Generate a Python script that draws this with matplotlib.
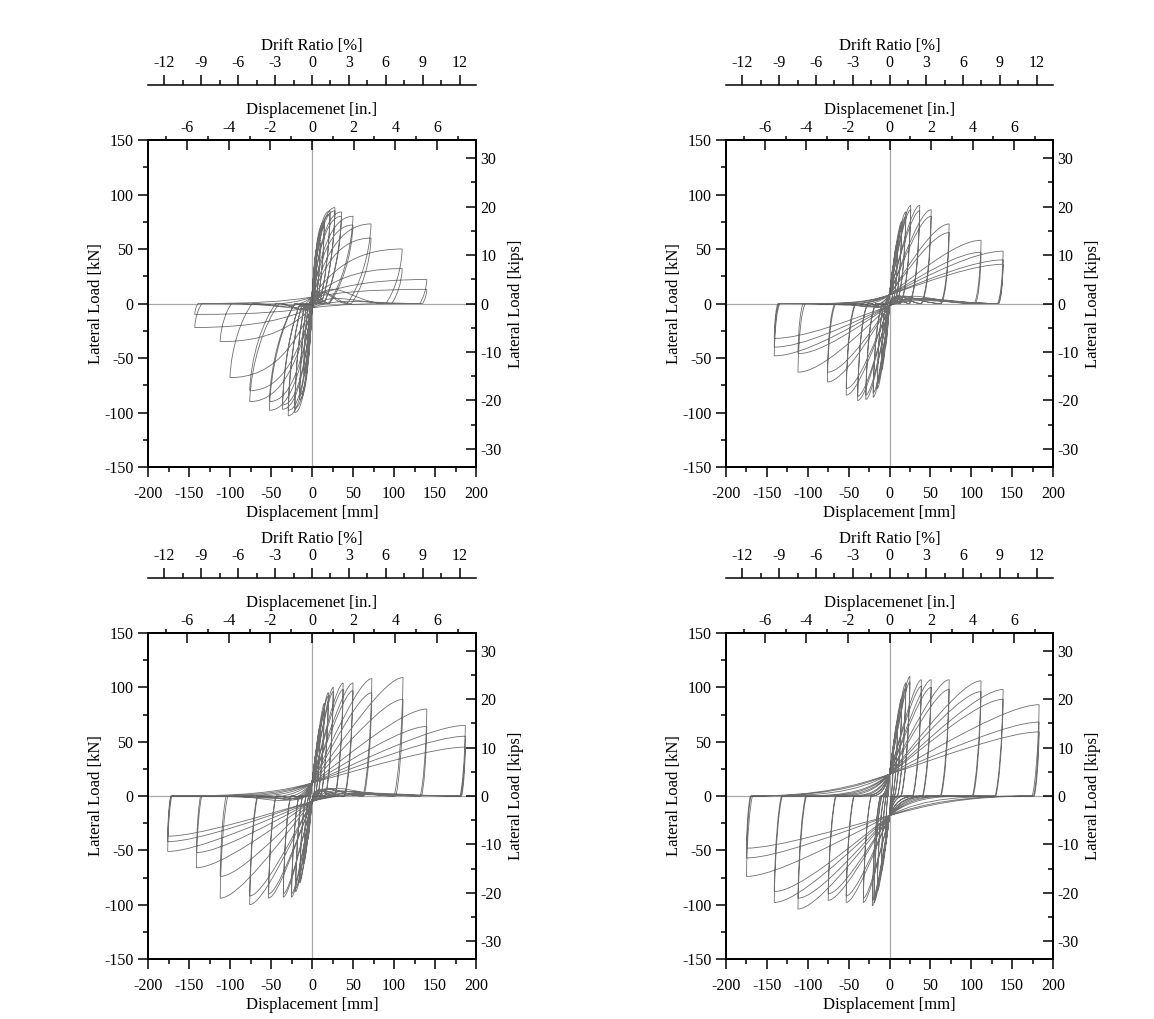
import matplotlib
matplotlib.use("Agg")  # no display
import matplotlib.pyplot as plt
from matplotlib.path import Path
from matplotlib.patches import PathPatch
from matplotlib.ticker import MultipleLocator

plt.rcParams['font.family'] = ['Liberation Serif', 'DejaVu Serif']
plt.rcParams['axes.unicode_minus'] = False

# --- Peak points of every cycle (mm, kN) ---
# top left
p1_disp_pos = [5, 5, 10, 10, 15, 15, 22, 22, 28, 28, 36, 36, 50, 50, 72, 72, 110, 110, 140, 140]
p1_load_pos = [35, 33, 58, 55, 75, 72, 85, 82, 88, 85, 84, 80, 80, 72, 73, 60, 50, 32, 22, 13]
p1_disp_neg = [-5, -5, -10, -10, -15, -15, -21, -21, -29, -29, -36, -36, -52, -52, -76, -76, -100, -112, -143, -143]
p1_load_neg = [-40, -37, -65, -62, -88, -84, -100, -96, -103, -98, -97, -93, -98, -90, -90, -80, -68, -35, -22, -10]

# top right
p2_disp_pos = [5, 5, 10, 10, 15, 15, 20, 20, 26, 26, 37, 37, 51, 51, 73, 73, 112, 112, 139, 139, 139]
p2_load_pos = [35, 33, 58, 55, 75, 72, 84, 80, 90, 86, 90, 85, 86, 80, 73, 65, 58, 47, 48, 40, 36]
p2_disp_neg = [-5, -5, -10, -10, -15, -15, -20, -20, -29, -29, -39, -39, -53, -53, -76, -76, -112, -112, -141, -141, -141]
p2_load_neg = [-40, -37, -62, -58, -78, -74, -86, -82, -88, -84, -89, -85, -84, -78, -72, -63, -63, -46, -48, -40, -32]

# bottom left
p3_disp_pos = [5, 5, 10, 10, 15, 15, 20, 20, 26, 26, 38, 38, 50, 50, 73, 73, 111, 111, 140, 140, 187, 187, 187]
p3_load_pos = [40, 38, 65, 62, 85, 80, 95, 92, 100, 96, 104, 98, 104, 97, 108, 95, 109, 89, 80, 64, 65, 55, 45]
p3_disp_neg = [-5, -5, -10, -10, -15, -15, -20, -20, -25, -25, -35, -35, -53, -53, -76, -76, -112, -112, -141, -141, -176, -176, -176]
p3_load_neg = [-40, -38, -62, -60, -80, -78, -88, -85, -93, -90, -93, -90, -94, -90, -100, -92, -94, -74, -66, -52, -51, -42, -37]

# bottom right
p4_disp_pos = [5, 5, 10, 10, 15, 15, 20, 20, 25, 25, 39, 39, 51, 51, 73, 73, 112, 112, 139, 139, 183, 183, 183]
p4_load_pos = [45, 42, 70, 66, 90, 86, 104, 100, 110, 105, 107, 101, 107, 100, 107, 98, 106, 96, 98, 89, 84, 68, 59]
p4_disp_neg = [-5, -5, -10, -10, -15, -15, -19, -19, -21, -21, -32, -32, -53, -53, -75, -75, -112, -112, -141, -141, -175, -175, -175]
p4_load_neg = [-45, -42, -70, -66, -88, -84, -98, -94, -101, -96, -98, -94, -98, -92, -96, -90, -104, -94, -98, -88, -74, -57, -48]

# load where the reloading branch crosses zero displacement (kN), per panel
pinch_pos = [6, 8, 12, 20]
pinch_neg = [-4, -2, -5, -18]

drift_ticks = [-12, -9, -6, -3, 0, 3, 6, 9, 12]
inch_ticks = [-6, -4, -2, 0, 2, 4, 6]
kip_ticks = [-30, -20, -10, 0, 10, 20, 30]

# loop shape settings: unloading stiffness kN/mm, slope factor, control fractions,
# and how rounded the unloading branch is (u1, h1, u2, h2)
shapes = [
    dict(k=2.5, f=2.5, a1=0.2, a2=0.55, u1=0.05, h1=0.6, u2=0.5, h2=0.2),
    dict(k=7, f=1.3, a1=0.35, a2=0.25, u1=0.1, h1=0.45, u2=0.5, h2=0.1),
    dict(k=10, f=1.2, a1=0.35, a2=0.2, u1=0.1, h1=0.5, u2=0.4, h2=0.1),
    dict(k=10, f=1.2, a1=0.35, a2=0.2, u1=0.1, h1=0.5, u2=0.4, h2=0.1),
]

W, H = 1154, 1019
MM_PER_PCT = 15.0   # 1 % drift = 15 mm
KN_PER_KIP = 4.448


def loop_path(dpos, ppos, dneg, pneg, sp, sn, k, f, a1, a2, u1, h1, u2, h2):
    verts, codes = [], []
    for dp, pp, dn, pn in zip(dpos, ppos, dneg, pneg):
        zp = dp - min(pp / k, 0.6 * dp)      # zero load after unloading from + peak
        zn = dn + min(-pn / k, -0.6 * dn)    # zero load after unloading from - peak
        mp = f * (pp - sp) / dp
        mn = f * (pn - sn) / dn
        dxs = 0.25 * abs(zn)
        dxn = 0.25 * abs(zp)
        v = [
            (zn, 0),
            (zn * 0.5, 0), (-dxs, sp - mp * dxs), (0, sp),
            (a1 * dp, sp + mp * a1 * dp), (dp * (1 - a2), pp), (dp, pp),
            (dp - u1 * (dp - zp), h1 * pp), (zp + u2 * (dp - zp), h2 * pp), (zp, 0),
            (zp * 0.5, 0), (dxn, sn + mn * dxn), (0, sn),
            (a1 * dn, sn + mn * a1 * dn), (dn * (1 - a2), pn), (dn, pn),
            (dn - u1 * (dn - zn), h1 * pn), (zn + u2 * (dn - zn), h2 * pn), (zn, 0),
        ]
        verts += v
        codes += [Path.MOVETO] + [Path.CURVE4] * 18
    return Path(verts, codes)


def rect(x0, y0, x1, y1):
    return [x0 / W, 1 - y1 / H, (x1 - x0) / W, (y1 - y0) / H]


panels = [
    ((148, 140, 476, 467), p1_disp_pos, p1_load_pos, p1_disp_neg, p1_load_neg),
    ((726, 140, 1053, 467), p2_disp_pos, p2_load_pos, p2_disp_neg, p2_load_neg),
    ((148, 633, 476, 959), p3_disp_pos, p3_load_pos, p3_disp_neg, p3_load_neg),
    ((726, 633, 1053, 959), p4_disp_pos, p4_load_pos, p4_disp_neg, p4_load_neg),
]

fig = plt.figure(figsize=(W / 100, H / 100), dpi=100)
lw = 1.1
fs_tick = 11.5
fs_lab = 12

for i, (box, dpos, ppos, dneg, pneg) in enumerate(panels):
    x0, y0, x1, y1 = box
    ax = fig.add_axes(rect(x0, y0, x1, y1))
    ax.axhline(0, color='#a8a8a8', lw=0.9, zorder=1)
    ax.axvline(0, color='#a8a8a8', lw=0.9, zorder=1)
    path = loop_path(dpos, ppos, dneg, pneg, pinch_pos[i], pinch_neg[i], **shapes[i])
    ax.add_patch(PathPatch(path, fill=False, ec='#4a4a4a', lw=0.6, alpha=0.8, zorder=2))

    ax.set_xlim(-200, 200)
    ax.set_ylim(-150, 150)
    ax.set_xticks(range(-200, 201, 50))
    ax.set_yticks(range(-150, 151, 50))
    ax.xaxis.set_minor_locator(MultipleLocator(25))
    ax.yaxis.set_minor_locator(MultipleLocator(25))
    ax.tick_params(which='both', direction='out', width=lw, labelsize=fs_tick,
                   top=False, right=False)
    ax.tick_params(which='major', length=7)
    ax.tick_params(which='minor', length=3.5)
    ax.tick_params(axis='x', which='major', pad=7)
    for s in ax.spines.values():
        s.set_linewidth(lw)
    ax.set_xlabel('Displacement [mm]', fontsize=fs_lab, labelpad=1.5)
    ax.set_ylabel('Lateral Load [kN]', fontsize=fs_lab, labelpad=0)

    # kips on the right
    axk = ax.twinx()
    axk.set_ylim(-150 / KN_PER_KIP, 150 / KN_PER_KIP)
    axk.set_yticks(kip_ticks)
    axk.yaxis.set_minor_locator(MultipleLocator(5))
    axk.tick_params(which='both', direction='in', width=lw, labelsize=fs_tick)
    axk.tick_params(which='major', length=7, pad=3)
    axk.tick_params(which='minor', length=3.5)
    axk.set_ylabel('Lateral Load [kips]', fontsize=fs_lab, labelpad=5)
    for s in axk.spines.values():
        s.set_linewidth(lw)

    # inches on top
    axi = ax.twiny()
    axi.set_xlim(-200 / 25.4, 200 / 25.4)
    axi.set_xticks(inch_ticks)
    axi.xaxis.set_minor_locator(MultipleLocator(1))
    axi.tick_params(which='major', direction='in', length=7, width=lw, labelsize=fs_tick, pad=3)
    axi.tick_params(which='minor', direction='out', length=3, width=lw)
    axi.set_xlabel('Displacemenet [in.]', fontsize=fs_lab, labelpad=4)
    for s in axi.spines.values():
        s.set_linewidth(lw)

    # drift ratio scale above
    yl = y0 - 55
    axd = fig.add_axes([x0 / W, 1 - yl / H - 0.0002, (x1 - x0) / W, 0.0002])
    axd.patch.set_visible(False)
    for side in ['left', 'right', 'bottom']:
        axd.spines[side].set_visible(False)
    axd.spines['top'].set_linewidth(lw)
    axd.set_yticks([])
    axd.set_xlim(-200 / MM_PER_PCT, 200 / MM_PER_PCT)
    axd.set_xticks(drift_ticks)
    axd.xaxis.set_minor_locator(MultipleLocator(1.5))
    axd.tick_params(which='both', direction='out', width=lw, labelsize=fs_tick,
                    top=True, bottom=False, labeltop=True, labelbottom=False)
    axd.tick_params(which='major', length=7, pad=3)
    axd.tick_params(which='minor', length=3.5)
    axd.xaxis.set_label_position('top')
    axd.set_xlabel('Drift Ratio [%]', fontsize=fs_lab, labelpad=3.6)

fig.savefig('out.png', dpi=100)
